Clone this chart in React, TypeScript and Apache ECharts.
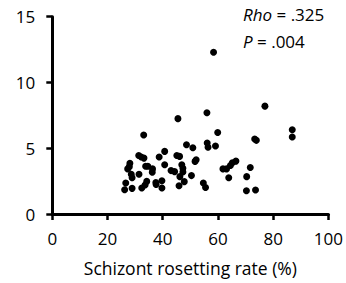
import React, { useEffect, useRef } from "react";
import * as echarts from "echarts";

const rosettingRate = [
  58.4, 77.0, 56.0, 45.5, 59.9, 33.1, 86.9, 86.9, 73.3, 73.9,
  56.1, 56.4, 59.1, 48.6, 50.9, 40.7, 31.3, 32.2, 33.2, 38.7,
  45.1, 46.1, 52.1, 51.7, 28.1, 27.9, 27.3, 33.8, 34.6, 36.3,
  36.2, 40.7, 43.0, 44.3, 46.9, 47.3, 47.3, 46.2, 28.6, 31.4,
  28.9, 34.2, 33.6, 32.4, 26.6, 26.2, 28.9, 37.5, 37.6, 39.7,
  39.7, 45.9, 47.8, 50.4, 54.7, 55.5, 61.8, 63.1, 63.9, 64.5,
  65.2, 66.5, 71.7, 70.4, 70.3, 73.6,
];
const yValues = [
  12.3, 8.2, 7.7, 7.25, 6.2, 6.0, 6.4, 5.85, 5.7, 5.6,
  5.4, 5.07, 5.17, 5.27, 5.04, 4.76, 4.45, 4.33, 4.25, 4.33,
  4.45, 4.38, 4.12, 4.0, 3.86, 3.6, 3.43, 3.63, 3.63, 3.43,
  3.17, 3.74, 3.3, 3.22, 3.74, 3.48, 3.2, 2.84, 3.02, 3.02,
  2.76, 2.48, 2.2, 1.97, 2.35, 1.84, 1.95, 2.4, 2.25, 2.53,
  1.97, 2.15, 2.46, 2.92, 2.35, 2.02, 3.43, 3.43, 2.76, 3.69,
  3.89, 4.02, 3.53, 2.84, 1.77, 1.82,
];
const xAxisTitle = "Schizont rosetting rate (%)";
const rhoText = ".325";
const pText = ".004";

const FONT = "'Open Sans', 'Noto Sans', sans-serif";

export default function App() {
  const ref = useRef<HTMLDivElement>(null);
  useEffect(() => {
    if (!ref.current) return;
    const chart = echarts.init(ref.current, null, { renderer: "svg" });
    const data = rosettingRate.map((x, i) => [x, yValues[i]]);
    chart.setOption({
      animation: false,
      backgroundColor: "#ffffff",
      grid: { left: 52.3, right: 15.5, top: 16.7, bottom: 69, containLabel: false },
      xAxis: {
        type: "value",
        min: 0,
        max: 100,
        interval: 20,
        name: xAxisTitle,
        nameLocation: "middle",
        nameGap: 45,
        nameTextStyle: { fontFamily: FONT, fontSize: 17.5, color: "#000" },
        axisLine: { show: true, onZero: false, lineStyle: { color: "#000", width: 3 } },
        axisTick: { show: true, length: 6, lineStyle: { color: "#000", width: 2.5 } },
        axisLabel: { fontFamily: FONT, fontSize: 17, color: "#000", margin: 15.5 },
        splitLine: { show: false },
      },
      yAxis: {
        type: "value",
        min: 0,
        max: 15,
        interval: 5,
        axisLine: { show: true, onZero: false, lineStyle: { color: "#000", width: 3 } },
        axisTick: { show: true, length: 6, lineStyle: { color: "#000", width: 2.5 } },
        axisLabel: { fontFamily: FONT, fontSize: 17, color: "#000", margin: 17 },
        splitLine: { show: false },
      },
      graphic: [
        {
          type: "text",
          x: 243,
          y: 23.3,
          style: {
            text: "{i|Rho} = " + rhoText,
            fontFamily: FONT,
            fontSize: 17,
            fill: "#000",
            verticalAlign: "bottom",
            rich: { i: { fontStyle: "italic", fontFamily: FONT, fontSize: 17 } },
          },
        },
        {
          type: "text",
          x: 243,
          y: 50,
          style: {
            text: "{i|P} = " + pText,
            fontFamily: FONT,
            fontSize: 17,
            fill: "#000",
            verticalAlign: "bottom",
            rich: { i: { fontStyle: "italic", fontFamily: FONT, fontSize: 17 } },
          },
        },
      ],
      series: [
        {
          type: "scatter",
          data,
          symbol: "circle",
          symbolSize: 7,
          itemStyle: { color: "#000", opacity: 1 },
        },
      ],
    });
    return () => chart.dispose();
  }, []);
  return (
    <div
      ref={ref}
      style={{ position: "fixed", left: 0, top: 0, width: 346, height: 283 }}
    />
  );
}
